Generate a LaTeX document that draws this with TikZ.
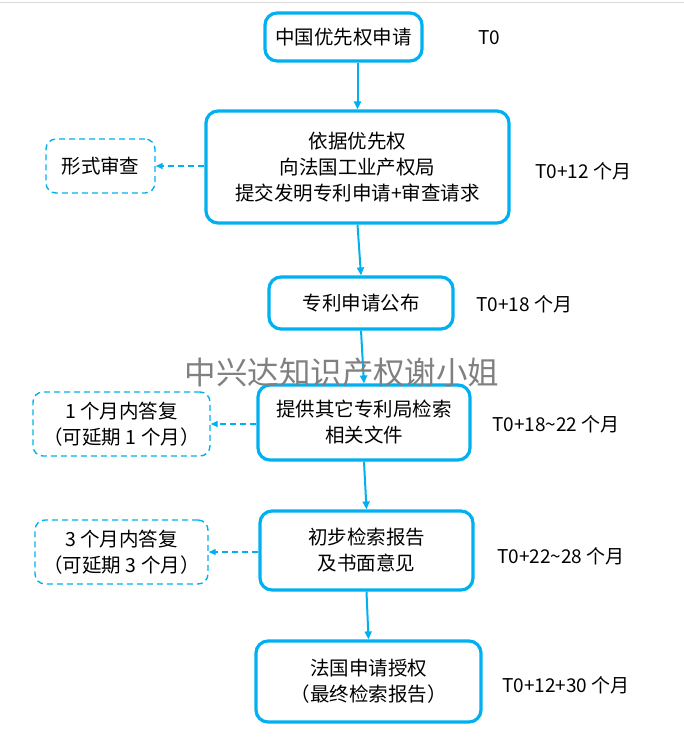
\documentclass[tikz,border=0pt]{standalone}
\usepackage{fontspec}
\setmainfont{Noto Sans CJK SC}
\usetikzlibrary{positioning, arrows.meta, calc}
\definecolor{boxblue}{RGB}{0, 176, 240}
\definecolor{markgray}{RGB}{128, 128, 128}
\tikzset{
  stage/.style={rectangle, rounded corners=12pt, draw=boxblue, line width=3.2pt, text centered, align=center, inner sep=0pt, font=\fontsize{19.5}{26}\selectfont},
  reply/.style={rectangle, rounded corners=10pt, draw=boxblue, line width=1.4pt, dash pattern=on 6pt off 4pt, text centered, align=center, inner sep=0pt, font=\fontsize{19.5}{26}\selectfont},
  timing/.style={anchor=west, inner sep=0pt, font=\fontsize{19}{24}\selectfont},
  flow/.style={draw=boxblue, line width=2pt, -{Triangle[length=8pt,width=7pt]}},
  side/.style={draw=boxblue, line width=1.4pt, dash pattern=on 6pt off 4pt, -{Triangle[length=7pt,width=6pt]}}
}
\begin{document}
\begin{tikzpicture}[x=1pt, y=-1pt]
        \useasboundingbox (0,0) rectangle (684,748);
        \draw [black!15, line width=1pt] (0,2) -- (684,2);

        % Etapas principales
        \node (prio) [stage, minimum width=157pt, minimum height=48pt] at (343.5,37) {中国优先权申请};
        \node (depot) [stage, minimum width=303pt, minimum height=112pt] at (357.5,167) {依据优先权\\向法国工业产权局\\提交发明专利申请+审查请求};
        \node (pub) [stage, minimum width=184pt, minimum height=52pt] at (361,303) {专利申请公布};
        \node (docs) [stage, minimum width=212pt, minimum height=75pt] at (364,422.5) {提供其它专利局检索\\相关文件};
        \node (rapport) [stage, minimum width=213pt, minimum height=79pt] at (366.5,550.5) {初步检索报告\\及书面意见};
        \node (grant) [stage, minimum width=225pt, minimum height=81pt] at (368.5,681.5) {法国申请授权\\（最终检索报告）};

        % Cajas punteadas a la izquierda
        \node (forme) [reply, minimum width=109pt, minimum height=54pt] at (100.5,166) {形式审查};
        \node (rep1) [reply, minimum width=177pt, minimum height=64pt] at (121.5,424) {1 个月内答复\\（可延期 1 个月）};
        \node (rep3) [reply, minimum width=173pt, minimum height=64pt] at (121.5,552) {3 个月内答复\\（可延期 3 个月）};

        % Plazos
        \node (t0) [timing] at (478,38) {T0};
        \node (t12) [timing] at (535,171) {T0+12 个月};
        \node (t18) [timing] at (476,304) {T0+18 个月};
        \node (t1822) [timing] at (492,424) {T0+18\textasciitilde22 个月};
        \node (t2228) [timing] at (497,556) {T0+22\textasciitilde28 个月};
        \node (t1230) [timing] at (502,685) {T0+12+30 个月};

        \draw [flow] (prio.south -| depot.north) -- (depot.north);
        \draw [flow] (depot.south) -- (pub.north);
        \draw [flow] (pub.south) -- (docs.north);
        \draw [flow] (docs.south) -- (rapport.north);
        \draw [flow] (rapport.south) -- (grant.north);

        \draw [side] (depot.west |- forme.east) -- (forme.east);
        \draw [side] (docs.west |- rep1.east) -- (rep1.east);
        \draw [side] (rapport.west |- rep3.east) -- (rep3.east);

        % Marca de agua
        \node (mark) [text=markgray, font=\fontsize{31.5}{36}\selectfont, inner sep=0pt] at (342,373) {中兴达知识产权谢小姐};
    \end{tikzpicture}
\end{document}
